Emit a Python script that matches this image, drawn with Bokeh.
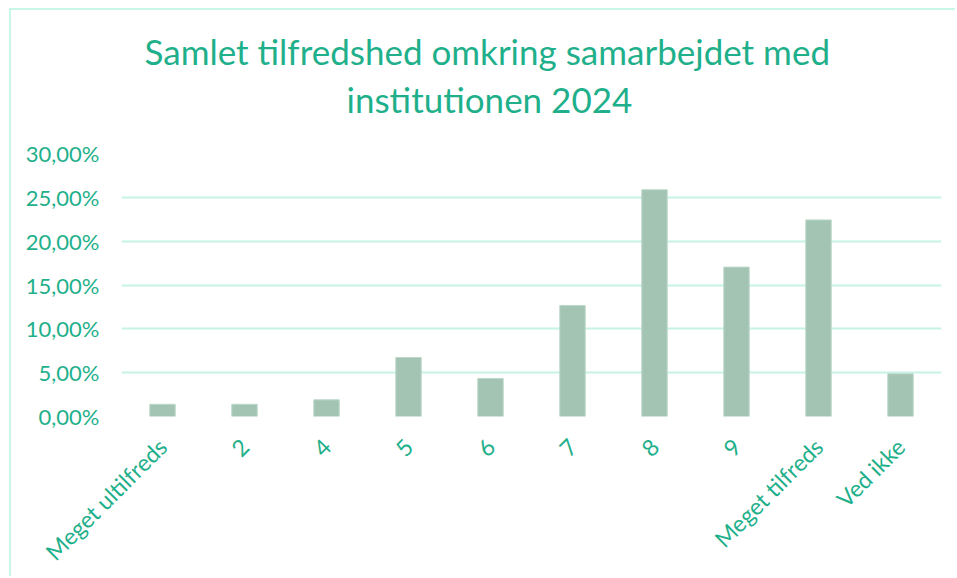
from bokeh.plotting import figure
from bokeh.models import FactorRange, Range1d, FixedTicker, Title
from bokeh.embed import file_html
from bokeh.resources import INLINE

categories = ["Meget ultilfreds", "2", "4", "5", "6", "7", "8", "9", "Meget tilfreds", "Ved ikke"]
values = [1.39, 1.39, 1.90, 6.73, 4.34, 12.67, 25.86, 17.04, 22.42, 4.87]
y_ticks = [0, 5, 10, 15, 20, 25, 30]
y_tick_labels = ["0,00%", "5,00%", "10,00%", "15,00%", "20,00%", "25,00%", "30,00%"]
title_lines = ["Samlet tilfredshed omkring samarbejdet med", "institutionen 2024"]
title_offsets = [23, 225]
title_standoffs = [6, 2]

TEXT = "#1fb08b"
GRID = "#c6f3e6"
BAR = "#a3c4b3"
FONT = "Lato"

p = figure(x_range=FactorRange(*categories, range_padding=0), y_range=Range1d(0, 30),
           width=946, height=568, output_backend="svg", toolbar_location=None,
           min_border_left=110, min_border_right=16, min_border_top=143, min_border_bottom=157)

p.vbar(x=categories, top=values, width=0.31, fill_color=BAR, line_color="#bcd8ca", line_width=1)

# spacer between plot area and title block
p.add_layout(Title(text=" ", text_font_size="10px", standoff=20), "above")
for line, off, so in reversed(list(zip(title_lines, title_offsets, title_standoffs))):
    t = Title(text=line, align="left", text_color=TEXT, text_font=FONT,
              text_font_size="35px", text_font_style="normal", offset=off,
              standoff=so)
    p.add_layout(t, "above")

p.yaxis.ticker = FixedTicker(ticks=y_ticks)
p.yaxis.major_label_overrides = {t: l for t, l in zip(y_ticks, y_tick_labels)}
p.yaxis.axis_line_color = None
p.yaxis.major_tick_line_color = None
p.yaxis.minor_tick_line_color = None
p.yaxis.major_label_text_color = TEXT
p.yaxis.major_label_text_font = FONT
p.yaxis.major_label_text_font_size = "22px"
p.yaxis.major_label_standoff = 16

p.xaxis.axis_line_color = None
p.xaxis.major_tick_line_color = None
p.xaxis.minor_tick_line_color = None
p.xaxis.major_label_orientation = 0.785398
p.xaxis.major_label_text_color = TEXT
p.xaxis.major_label_text_font = FONT
p.xaxis.major_label_text_font_size = "23px"
p.xaxis.major_label_standoff = 20

p.xgrid.grid_line_color = None
p.ygrid.grid_line_color = GRID
p.ygrid.grid_line_width = 2
p.outline_line_color = None
p.background_fill_color = "white"
p.border_fill_color = "white"
p.styles = {"margin-left": "9px", "margin-top": "8px",
            "border-left": "2px solid #c8f7ea", "border-top": "2px solid #c8f7ea"}

open("out.html", "w").write(file_html(p, INLINE))
